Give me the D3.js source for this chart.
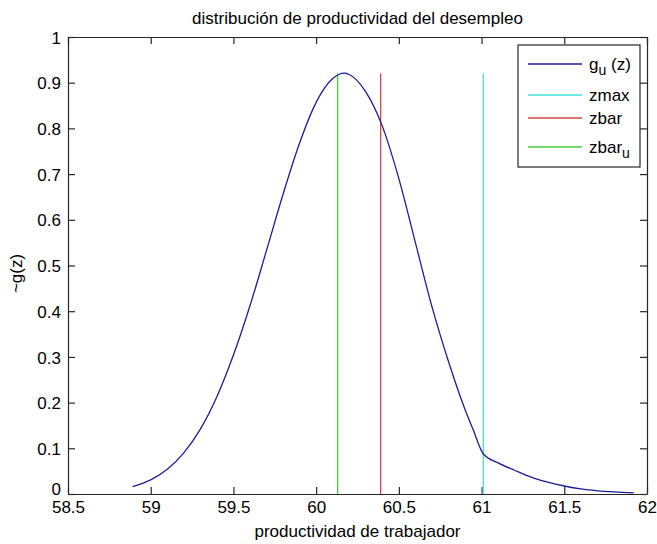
<!DOCTYPE html>
<html>
<head>
<meta charset="utf-8">
<script src="https://cdn.jsdelivr.net/npm/d3@7"></script>
<style>
  html, body { margin: 0; padding: 0; background: #ffffff; }
  text { font-family: "Liberation Sans", Arial, sans-serif; fill: #000; }
</style>
</head>
<body>
<svg id="chart" width="657" height="544"></svg>
<script>
// ---- data ----
const zValues = [58.89, 59.0, 59.1, 59.2, 59.3, 59.4, 59.5, 59.6, 59.7, 59.8, 59.9, 60.0, 60.1, 60.17, 60.2, 60.3, 60.4, 60.5, 60.6, 60.7, 60.8, 60.9, 60.95, 61.01, 61.1, 61.2, 61.3, 61.4, 61.5, 61.6, 61.7, 61.8, 61.92];
const gValues = [0.016, 0.031, 0.054, 0.090, 0.142, 0.213, 0.304, 0.412, 0.533, 0.656, 0.768, 0.857, 0.909, 0.921, 0.918, 0.880, 0.805, 0.690, 0.550, 0.410, 0.290, 0.185, 0.140, 0.088, 0.068, 0.052, 0.037, 0.026, 0.0175, 0.011, 0.007, 0.0045, 0.0025];
const vLineNames = ["zmax", "zbar", "zbar_u"];
const vLineX = [61.01, 60.39, 60.13];
const vLineTop = 0.92;
const xTickValues = [58.5, 59, 59.5, 60, 60.5, 61, 61.5, 62];
const xTickLabels = ["58.5", "59", "59.5", "60", "60.5", "61", "61.5", "62"];
const yTickValues = [0, 0.1, 0.2, 0.3, 0.4, 0.5, 0.6, 0.7, 0.8, 0.9, 1];
const yTickLabels = ["0", "0.1", "0.2", "0.3", "0.4", "0.5", "0.6", "0.7", "0.8", "0.9", "1"];
const titleText = "distribución de productividad del desempleo";
const xLabelText = "productividad de trabajador";
const yLabelText = "~g(z)";

// ---- layout ----
const L = 68, R = 647, T = 37, B = 494;
const colors = { g: "#1c1c98", zmax: "#44dede", zbar: "#d84444", zbar_u: "#3fcf3f" };
const vColors = [colors.zmax, colors.zbar, colors.zbar_u];

const svg = d3.select("#chart");
const x = d3.scaleLinear().domain([58.5, 62]).range([L, R]);
const y = d3.scaleLinear().domain([0, 1]).range([B, T]);

const axisColor = "#262626";
const fs = 17;

// axes with inward ticks (bottom/top, left/right)
const xb = svg.append("g").attr("transform", `translate(0,${B})`)
  .call(d3.axisBottom(x).tickValues(xTickValues).tickSizeInner(-7).tickSizeOuter(0)
    .tickFormat((d, i) => xTickLabels[i]).tickPadding(7));
const xt = svg.append("g").attr("transform", `translate(0,${T})`)
  .call(d3.axisTop(x).tickValues(xTickValues).tickSizeInner(-7).tickSizeOuter(0).tickFormat(""));
const yl = svg.append("g").attr("transform", `translate(${L},0)`)
  .call(d3.axisLeft(y).tickValues(yTickValues).tickSizeInner(-7).tickSizeOuter(0)
    .tickFormat((d, i) => yTickLabels[i]).tickPadding(7));
const yr = svg.append("g").attr("transform", `translate(${R},0)`)
  .call(d3.axisRight(y).tickValues(yTickValues).tickSizeInner(-7).tickSizeOuter(0).tickFormat(""));

[xb, xt, yl, yr].forEach(g => {
  g.selectAll("path.domain").attr("stroke", axisColor).attr("stroke-width", 1.2);
  g.selectAll(".tick line").attr("stroke", axisColor).attr("stroke-width", 1.2);
  g.selectAll(".tick text").attr("font-size", fs).attr("fill", "#111")
    .attr("font-family", "'Liberation Sans', Arial, sans-serif");
});
xb.selectAll(".tick text").attr("dy", "0.71em");
yl.selectAll(".tick text").attr("dy", d => d === 0 ? "0.05em" : "0.36em");

// vertical lines
vLineX.forEach((v, i) => {
  svg.append("line")
    .attr("x1", x(v)).attr("x2", x(v))
    .attr("y1", y(0)).attr("y2", y(vLineTop))
    .attr("stroke", vColors[i]).attr("stroke-width", 1.3);
});

// curve
const line = d3.line().x((d, i) => x(zValues[i])).y((d, i) => y(gValues[i])).curve(d3.curveMonotoneX);
svg.append("path").datum(gValues).attr("d", line)
  .attr("fill", "none").attr("stroke", colors.g).attr("stroke-width", 1.3);

// title & labels
svg.append("text").attr("x", (L + R) / 2).attr("y", 24).attr("text-anchor", "middle")
  .attr("font-size", fs).text(titleText);
svg.append("text").attr("x", (L + R) / 2).attr("y", 537).attr("text-anchor", "middle")
  .attr("font-size", fs).text(xLabelText);
svg.append("text").attr("transform", `translate(22,${(T + B) / 2 + 8}) rotate(-90)`)
  .attr("text-anchor", "middle").attr("font-size", fs).text(yLabelText);

// legend
const lg = svg.append("g");
lg.append("rect").attr("x", 518).attr("y", 45).attr("width", 122).attr("height", 122)
  .attr("fill", "#fff").attr("stroke", axisColor).attr("stroke-width", 1.2);
const legendRows = [
  { color: colors.g, y: 64, main: "g", sub: "u", rest: " (z)" },
  { color: colors.zmax, y: 95, main: "zmax", sub: "", rest: "" },
  { color: colors.zbar, y: 118, main: "zbar", sub: "", rest: "" },
  { color: colors.zbar_u, y: 147, main: "zbar", sub: "u", rest: "" }
];
legendRows.forEach(r => {
  lg.append("line").attr("x1", 528).attr("x2", 582).attr("y1", r.y).attr("y2", r.y)
    .attr("stroke", r.color).attr("stroke-width", 1.3);
  const t = lg.append("text").attr("x", 589).attr("y", r.y + 6).attr("font-size", fs);
  t.append("tspan").text(r.main);
  if (r.sub) t.append("tspan").attr("dy", 5).attr("font-size", 14).text(r.sub);
  if (r.rest) t.append("tspan").attr("dy", -5).text(r.rest);
});
</script>
</body>
</html>
